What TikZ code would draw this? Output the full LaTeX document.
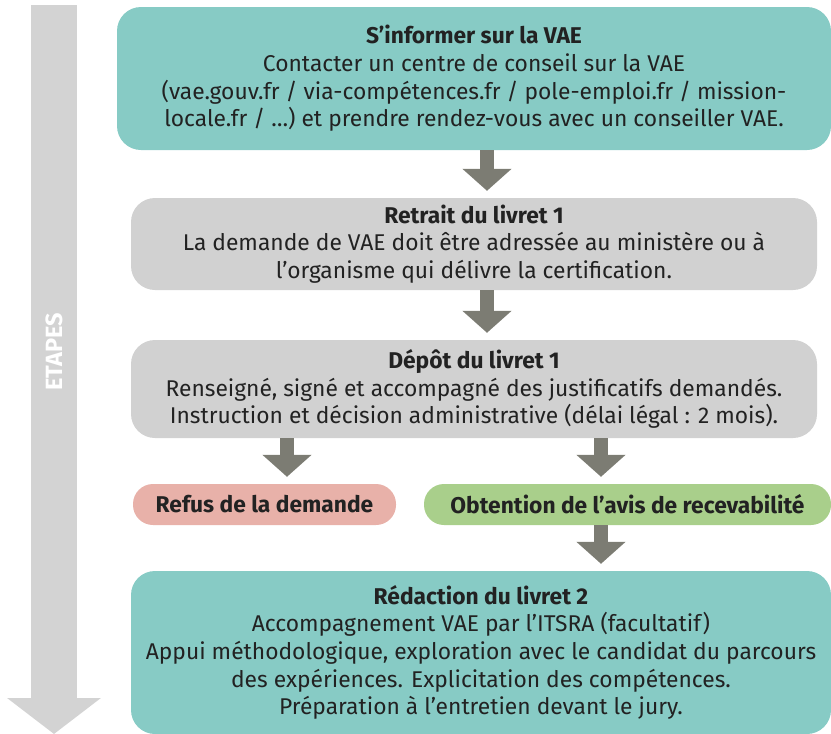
\documentclass[tikz,border=0pt]{standalone}
\usepackage{fontspec}
\setmainfont{Fira Sans}
\usetikzlibrary{arrows.meta}
\definecolor{tealbox}{HTML}{87CBC5}
\definecolor{graybox}{HTML}{D1D1D1}
\definecolor{pinkbox}{HTML}{E8B1A9}
\definecolor{greenbox}{HTML}{A9CF8B}
\definecolor{arrowgray}{HTML}{7C7C73}
\definecolor{bigarrow}{HTML}{D3D3D3}
\definecolor{txt}{HTML}{222222}
\tikzset{
  box/.style={fill=#1, draw=none, rounded corners=24pt, align=center, text=txt,
    font=\fontsize{22.8}{27.6}\selectfont, inner sep=0pt},
  pill/.style={fill=#1, draw=none, rounded corners=20pt, align=center, text=txt,
    font=\fontsize{22.8}{26}\selectfont\bfseries, inner sep=0pt},
  flow/.style={draw=arrowgray, line width=14pt, -{Triangle[width=48pt,length=22pt]}, shorten >=7pt},
}
\begin{document}
\begin{tikzpicture}[x=1pt,y=-1pt]
\useasboundingbox (0,0) rectangle (831,734);
% big left arrow
\coordinate (etop) at (54,5);
\coordinate (ebot) at (54,734);
\draw[bigarrow, line width=46pt, -{Triangle[width=92pt,length=36pt]}] (etop) -- (ebot);
\node[rotate=90, text=white, font=\fontsize{23.5}{23.5}\selectfont\bfseries] (etapes) at (54,352) {ETAPES};
% boxes
\node[box=tealbox, minimum width=714pt, minimum height=143pt] (b1) at (474,78.5)
 {\textbf{S’informer sur la VAE}\\Contacter un centre de conseil sur la VAE\\(vae.gouv.fr / via-compétences.fr / pole-emploi.fr / mission-\\locale.fr / …) et prendre rendez-vous avec un conseiller VAE.};
\node[box=graybox, minimum width=686pt, minimum height=92pt] (b2) at (474,244)
 {\textbf{Retrait du livret 1}\\La demande de VAE doit être adressée au ministère ou à\\l’organisme qui délivre la certification.};
\node[box=graybox, minimum width=686pt, minimum height=98pt] (b3) at (474,389)
 {\textbf{Dépôt du livret 1}\\Renseigné, signé et accompagné des justificatifs demandés.\\Instruction et décision administrative (délai légal : 2 mois).};
\node[pill=pinkbox, minimum width=263pt, minimum height=41pt] (refus) at (264.5,504.5) {Refus de la demande};
\node[pill=greenbox, minimum width=407pt, minimum height=41pt] (obt) at (627.5,504.5) {Obtention de l’avis de recevabilité};
\node[box=tealbox, minimum width=700pt, minimum height=163pt] (b5) at (481,652.5)
 {\textbf{Rédaction du livret 2}\\Accompagnement VAE par l’ITSRA (facultatif)\\Appui méthodologique, exploration avec le candidat du parcours\\des expériences. Explicitation des compétences.\\Préparation à l’entretien devant le jury.};
% arrows
\draw[flow] (b1.south -| 487,0) -- (b2.north -| 487,0);
\draw[flow] (b2.south -| 487,0) -- (b3.north -| 487,0);
\draw[flow] (b3.south -| 287,0) -- (refus.north -| 287,0);
\draw[flow] (b3.south -| 601,0) -- (obt.north -| 601,0);
\draw[flow] (obt.south -| 601,0) -- (b5.north -| 601,0);
\end{tikzpicture}
\end{document}
